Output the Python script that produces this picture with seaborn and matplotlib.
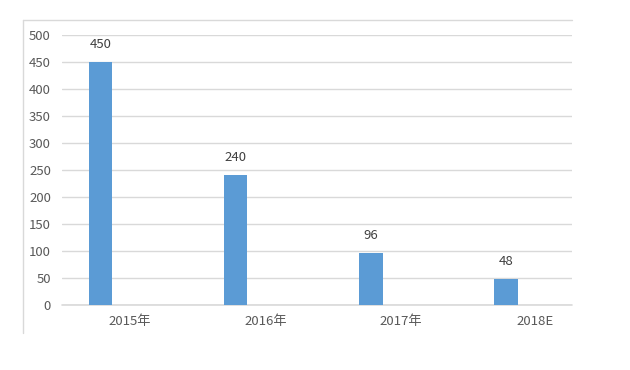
import matplotlib
matplotlib.use("Agg")
import matplotlib.pyplot as plt
import seaborn as sns
import pandas as pd
from matplotlib.lines import Line2D

categories = ["2015年", "2016年", "2017年", "2018E"]
values = [450, 240, 96, 48]
y_ticks = [0, 50, 100, 150, 200, 250, 300, 350, 400, 450, 500]

sns.set_theme(style="white")
plt.rcParams['font.family'] = ['Noto Sans CJK SC', 'DejaVu Sans']

W, H = 630, 370
fig = plt.figure(figsize=(W / 100, H / 100), dpi=100)
ax = fig.add_axes([62 / W, (H - 305) / H, (572 - 62) / W, (305 - 35) / H])

df = pd.DataFrame({"cat": categories, "val": values})
sns.barplot(data=df, x="cat", y="val", color="#5B9BD5", saturation=1,
            width=0.175, ax=ax, linewidth=0)

ax.set_xlim(-0.285, 3.49)
ax.set_ylim(0, 500)
ax.set_yticks(y_ticks)
ax.set_yticklabels([str(t) for t in y_ticks], color="#595959", fontsize=9.5)
ax.set_xticks([i + 0.22 for i in range(len(categories))])
ax.set_xticklabels(categories, color="#595959", fontsize=9.5)
ax.tick_params(axis="y", length=0, pad=8)
ax.tick_params(axis="x", length=0, pad=7)
ax.set_xlabel("")
ax.set_ylabel("")
ax.yaxis.grid(True, color="#d9d9d9", linewidth=1)
ax.set_axisbelow(True)
for s in ax.spines.values():
    s.set_visible(False)
ax.axhline(0, color="#d9d9d9", linewidth=1.2, clip_on=False, zorder=0.5)

for i, v in enumerate(values):
    ax.annotate(str(v), (i, v), xytext=(0, 8), textcoords="offset points",
                ha="center", va="bottom", color="#404040", fontsize=9.5)

# chart border (partially visible)
fig.add_artist(Line2D([23 / W, 572 / W], [(H - 20) / H, (H - 20) / H],
                      transform=fig.transFigure, color="#d9d9d9", linewidth=1))
fig.add_artist(Line2D([23 / W, 23 / W], [(H - 20) / H, (H - 333) / H],
                      transform=fig.transFigure, color="#d9d9d9", linewidth=1))

fig.savefig("out.png", dpi=100)
